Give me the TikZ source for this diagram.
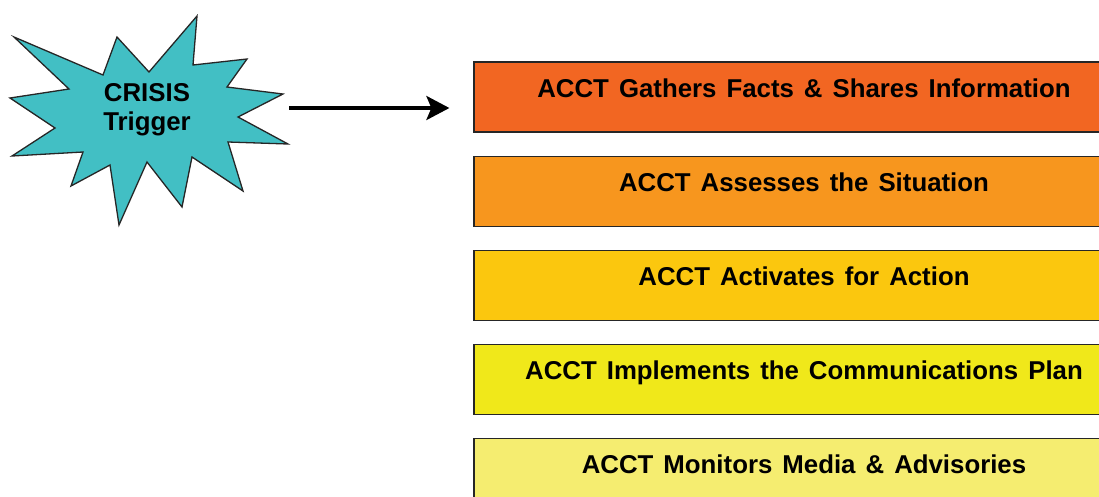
\documentclass[tikz,border=0pt]{standalone}
\usepackage{fontspec}
\setmainfont{Liberation Sans}[WordSpace=1.4]
\usepackage{tikz}
\usetikzlibrary{positioning,arrows.meta}
\definecolor{mycyan}{RGB}{66,191,196}
\definecolor{myorangered}{RGB}{242,102,34}
\definecolor{myorange}{RGB}{247,150,30}
\definecolor{mygold}{RGB}{251,199,14}
\definecolor{myyellow}{RGB}{240,232,26}
\definecolor{mypaleyellow}{RGB}{245,237,112}
\newcommand\mystep{%
\fontsize{25.8}{29}\selectfont\bfseries%
}

\begin{document}
\begin{tikzpicture}[x=1pt,y=-1pt,
    stepbox/.style={draw=black!85,line width=1.2pt,rectangle,font=\mystep,
      minimum width=660pt,minimum height=70pt,inner sep=0pt,
      text height=18pt,text depth=18pt},
    >={Stealth[length=23pt,width=24pt,inset=5pt]}]
    \useasboundingbox (0,0) rectangle (1099,496);
    \clip (0,0) rectangle (1099,496);

    % Krisenstern links
    \draw[fill=mycyan,draw=black!85,line width=1.3pt,line join=miter]
      (14,37) -- (103,75) -- (117,37) -- (149,72) -- (197,16)
      -- (193,65) -- (247,59) -- (227,87) -- (283,94) -- (238,117)
      -- (288,144) -- (228,142) -- (243,191) -- (192,157) -- (182,207)
      -- (147,162) -- (119,225) -- (110,165) -- (71,186) -- (83,152)
      -- (12,156) -- (55,128) -- (10,98) -- (69,89) -- cycle;
    \node[align=center,inner sep=0pt,font=\mystep] (trigger) at (147,110)
      {CRISIS\\Trigger};
    \coordinate (burst) at (289,108);

    % Schritte 1-5
    \node[stepbox,fill=myorangered] (gather) at (804,97)
      {ACCT Gathers Facts \& Shares Information};
    \node[stepbox,fill=myorange,below=23pt of gather] (assess)
      {ACCT Assesses the Situation};
    \node[stepbox,fill=mygold,below=23pt of assess] (activate)
      {ACCT Activates for Action};
    \node[stepbox,fill=myyellow,below=23pt of activate] (implement)
      {ACCT Implements the Communications Plan};
    \node[stepbox,fill=mypaleyellow,below=23pt of implement] (monitor)
      {ACCT Monitors Media \& Advisories};

    % Pfeil zum ersten Schritt
    \draw[->,line width=3.5pt] (burst) -- ([xshift=-24pt]gather.west |- burst);
\end{tikzpicture}
\end{document}
